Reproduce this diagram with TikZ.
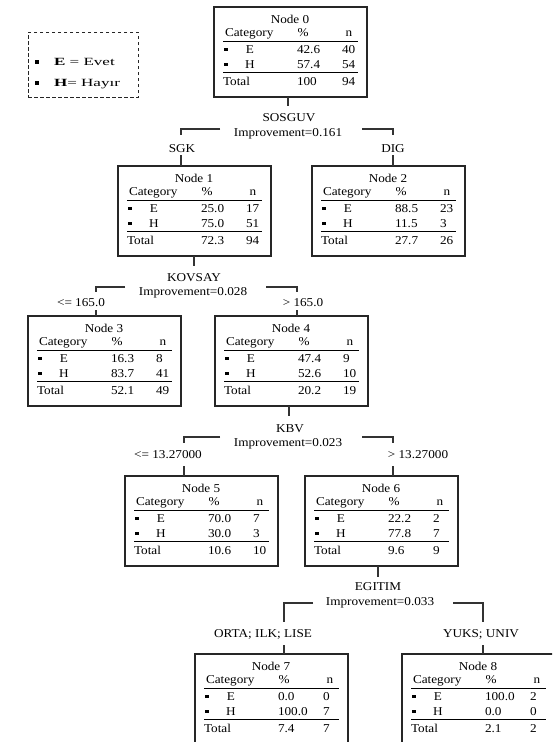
\documentclass[tikz,border=0pt]{standalone}
\usepackage{fontspec}
\setmainfont{Liberation Serif}[FakeStretch=1.1]
\newfontfamily\legfont{Liberation Serif}[FakeStretch=1.55]
\newcommand\fs{\fontsize{12}{14}\selectfont}
\tikzset{
 box/.style={draw=black!85, line width=1.2pt, minimum width=153pt, minimum height=90pt, inner sep=0pt, outer sep=0pt},
 txt/.style={inner sep=0pt, outer sep=0pt, text height=8pt, text depth=2.5pt, font=\fs},
 legtxt/.style={inner sep=0pt, outer sep=0pt, text height=8pt, text depth=2.5pt, font=\legfont\fontsize{11}{13}\selectfont},
 conn/.style={draw=black!80, line width=1.2pt},
 rl/.style={draw=black, line width=0.9pt},
 sq/.style={fill=black, minimum size=3.6pt, inner sep=0pt, outer sep=0pt},
 legbox/.style={draw=black!85, line width=0.9pt, dash pattern=on 3.5pt off 2.5pt, minimum width=110pt, minimum height=65pt, inner sep=0pt, outer sep=0pt}
}
\newcommand\tnode[9]{%
 \node[box, anchor=north west] (n#1) at (#2,#3) {};
 \begin{scope}[shift={(#2,#3)}]
  \node[txt] (n#1-t) at (76,14) {Node #1};
  \node[txt,anchor=west] (n#1-c) at (11,27) {Category};
  \node[txt] (n#1-p) at (89,27) {\%};
  \node[txt] (n#1-n) at (135,27) {n};
  \draw[rl] (9,34) -- (144,34);
  \node[sq] (n#1-b1) at (12,42.5) {};
  \node[txt] (n#1-e) at (36,44) {E};
  \node[txt,anchor=west] (n#1-ep) at (83,44) {#4};
  \node[txt,anchor=west] (n#1-en) at (128,44) {#5};
  \node[sq] (n#1-b2) at (12,57.5) {};
  \node[txt] (n#1-h) at (36,59) {H};
  \node[txt,anchor=west] (n#1-hp) at (83,59) {#6};
  \node[txt,anchor=west] (n#1-hn) at (128,59) {#7};
  \draw[rl] (9,65) -- (144,65);
  \node[txt,anchor=west] (n#1-tt) at (9,75.5) {Total};
  \node[txt,anchor=west] (n#1-tp) at (83,75.5) {#8};
  \node[txt,anchor=west] (n#1-tn) at (128,75.5) {#9};
 \end{scope}}
\begin{document}
\begin{tikzpicture}[x=1pt,y=-1pt]
\useasboundingbox (0,0) rectangle (552,742);
\fill[white] (0,0) rectangle (552,742);
\clip (0,0) rectangle (552,742);
% legend
\node[legbox, anchor=north west] (leg) at (28,32) {};
\node[sq] (legb1) at (37,62) {};
\node[legtxt,anchor=west] (legE) at (54,63) {\textbf{E} = Evet};
\node[sq] (legb2) at (37,83) {};
\node[legtxt,anchor=west] (legH) at (54,84) {\textbf{H}= Hayır};
% tree nodes
\tnode{0}{214}{7}{42.6}{40}{57.4}{54}{100}{94}
\tnode{1}{118}{166}{25.0}{17}{75.0}{51}{72.3}{94}
\tnode{2}{312}{166}{88.5}{23}{11.5}{3}{27.7}{26}
\tnode{3}{28}{316}{16.3}{8}{83.7}{41}{52.1}{49}
\tnode{4}{215}{316}{47.4}{9}{52.6}{10}{20.2}{19}
\tnode{5}{125}{476}{70.0}{7}{30.0}{3}{10.6}{10}
\tnode{6}{305}{476}{22.2}{2}{77.8}{7}{9.6}{9}
\tnode{7}{195}{654}{0.0}{0}{100.0}{7}{7.4}{7}
\tnode{8}{402}{654}{100.0}{2}{0.0}{0}{2.1}{2}
% split 0
\coordinate (v0) at (288,106);
\draw[conn] (v0 |- n0.south) -- (v0);
\node[txt] (s0v) at (289,119) {SOSGUV};
\node[txt] (s0i) at (288,134) {Improvement=0.161};
\coordinate (h1) at (220,129); \coordinate (t1) at (181,135);
\coordinate (h2) at (362,129); \coordinate (t2) at (393,135);
\draw[conn] (h1) -| (t1);
\draw[conn] (h2) -| (t2);
\node[txt] (l1) at (182,150) {SGK};
\node[txt] (l2) at (393,150) {DIG};
\coordinate (u1) at (181,155); \coordinate (u2) at (393,155);
\draw[conn] (u1) -- (u1 |- n1.north);
\draw[conn] (u2) -- (u2 |- n2.north);
% split 1
\coordinate (v1) at (194,266);
\draw[conn] (v1 |- n1.south) -- (v1);
\node[txt] (s1v) at (194,279) {KOVSAY};
\node[txt] (s1i) at (193,293) {Improvement=0.028};
\coordinate (h3) at (125,287); \coordinate (t3) at (96,292);
\coordinate (h4) at (266,287); \coordinate (t4) at (297,292);
\draw[conn] (h3) -| (t3);
\draw[conn] (h4) -| (t4);
\node[txt] (l3) at (81,304) {<= 165.0};
\node[txt] (l4) at (303,304) {> 165.0};
\coordinate (u3) at (96,310); \coordinate (u4) at (297,310);
\draw[conn] (u3) -- (u3 |- n3.north);
\draw[conn] (u4) -- (u4 |- n4.north);
% split 2
\coordinate (v2) at (289,416);
\draw[conn] (v2 |- n4.south) -- (v2);
\node[txt] (s2v) at (290,430) {KBV};
\node[txt] (s2i) at (288,444) {Improvement=0.023};
\coordinate (h5) at (220,437); \coordinate (t5) at (184,443);
\coordinate (h6) at (362,437); \coordinate (t6) at (393,443);
\draw[conn] (h5) -| (t5);
\draw[conn] (h6) -| (t6);
\node[txt] (l5) at (168,456) {<= 13.27000};
\node[txt] (l6) at (418,456) {> 13.27000};
\coordinate (u5) at (184,466); \coordinate (u6) at (393,466);
\draw[conn] (u5) -- (u5 |- n5.north);
\draw[conn] (u6) -- (u6 |- n6.north);
% split 3
\coordinate (v3) at (378,577);
\draw[conn] (v3 |- n6.south) -- (v3);
\node[txt] (s3v) at (378,588) {EGITIM};
\node[txt] (s3i) at (380,603) {Improvement=0.033};
\coordinate (h7) at (313,603); \coordinate (t7) at (284,622);
\coordinate (h8) at (453,603); \coordinate (t8) at (483,622);
\draw[conn] (h7) -| (t7);
\draw[conn] (h8) -| (t8);
\node[txt] (l7) at (263,635) {ORTA; ILK; LISE};
\node[txt] (l8) at (481,635) {YUKS; UNIV};
\coordinate (u7) at (284,645); \coordinate (u8) at (483,645);
\draw[conn] (u7) -- (u7 |- n7.north);
\draw[conn] (u8) -- (u8 |- n8.north);
\end{tikzpicture}
\end{document}
